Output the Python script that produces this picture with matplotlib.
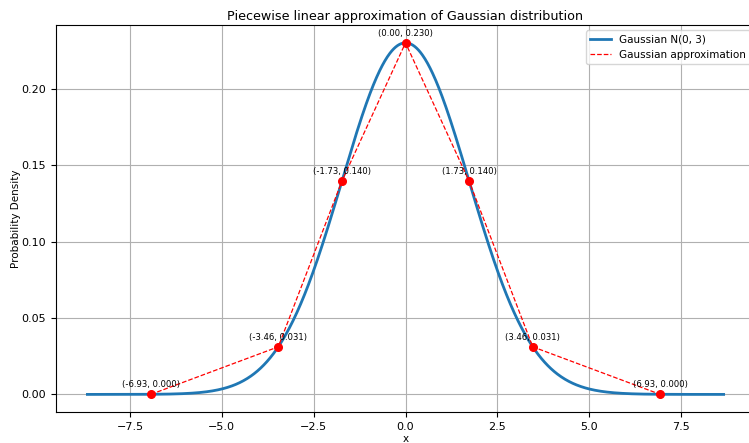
import numpy as np
import matplotlib.pyplot as plt

# Gaussian parameters
mu = 0.0
variance = 3.0

# approximation points (x, pdf value)
approx_x = [-6.928, -3.464, -1.732, 0.0, 1.732, 3.464, 6.928]
approx_y = [0.0000773, 0.03117, 0.13969, 0.23033, 0.13969, 0.03117, 0.0000773]

sigma = np.sqrt(variance)
x = np.linspace(mu - 5 * sigma, mu + 5 * sigma, 1000)
pdf = np.exp(-(x - mu) ** 2 / (2 * variance)) / np.sqrt(2 * np.pi * variance)

fig, ax = plt.subplots(figsize=(7.49, 4.43), dpi=100)
ax.plot(x, pdf, lw=2, label="Gaussian N(0, 3)")
ax.plot(approx_x, approx_y, "r--", lw=0.9, label="Gaussian approximation")
ax.plot(approx_x, approx_y, "ro", ms=5.5)

for px, py in zip(approx_x, approx_y):
    ax.annotate(f"({px:.2f}, {py:.3f})", (px, py), textcoords="offset points",
                xytext=(0, 5), ha="center", fontsize=6.1)

ax.set_title("Piecewise linear approximation of Gaussian distribution", fontsize=9.2, pad=4)
ax.set_xlabel("x", fontsize=7.5, labelpad=2)
ax.set_ylabel("Probability Density", fontsize=7.5, labelpad=0)
ax.tick_params(labelsize=8)
ax.grid(True)
ax.legend(fontsize=7.5, loc="upper right")

# the original image is cropped slightly on the right
fig.subplots_adjust(left=0.0742, right=1.0086, top=0.943, bottom=0.07)
fig.savefig("out.png")
